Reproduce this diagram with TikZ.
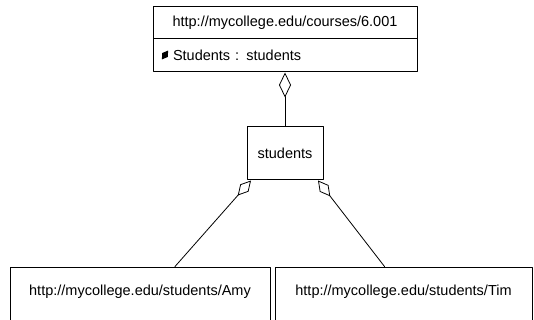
\documentclass[tikz,border=0pt]{standalone}
\usepackage{fontspec}
\setmainfont{Liberation Sans}
\usetikzlibrary{arrows.meta}
\usetikzlibrary{shapes.geometric}

\begin{document}
\begin{tikzpicture}[x=1pt,y=-1pt, line cap=round,line join=round,
  box/.style={draw,line width=1pt,font=\fontsize{14.5}{17}\selectfont},
  link/.style={line width=0.8pt}]
\useasboundingbox (0,0) rectangle (534,320);
\clip (0,0) rectangle (534,320);
\node[box,minimum width=264pt,minimum height=32pt] (course) at (285,23) {http://mycollege.edu/courses/6.001};
\node[box,minimum height=33pt,text width=224pt,inner xsep=20pt,align=left] (courseattr) at (285,55.5) {Students : students};
\node[diamond,fill=black,inner sep=0pt,minimum width=7pt,minimum height=11pt,rotate=-35] (icon) at (165,55) {};
\node[box,minimum width=76pt,minimum height=53pt] (students) at (285,153.5) {students};
\node[box,anchor=base,minimum width=260pt,inner sep=0pt,text height=28pt,text depth=36pt] (amy) at (140,295) {http://mycollege.edu/students/Amy};
\node[box,anchor=base,minimum width=257pt,inner sep=0pt,text height=28pt,text depth=36pt] (tim) at (403.5,295) {http://mycollege.edu/students/Tim};
\draw [link,-{Diamond[open,length=25pt,width=12pt]}] (students.north) -- (courseattr.south);
\draw [link,{Diamond[open,length=20pt,width=11pt]}-] ([xshift=-34pt]students.south) -- ([xshift=35pt]amy.north);
\draw [link,{Diamond[open,length=20pt,width=11pt]}-] ([xshift=33pt]students.south) -- ([xshift=-19pt]tim.north);
\end{tikzpicture}
\end{document}
